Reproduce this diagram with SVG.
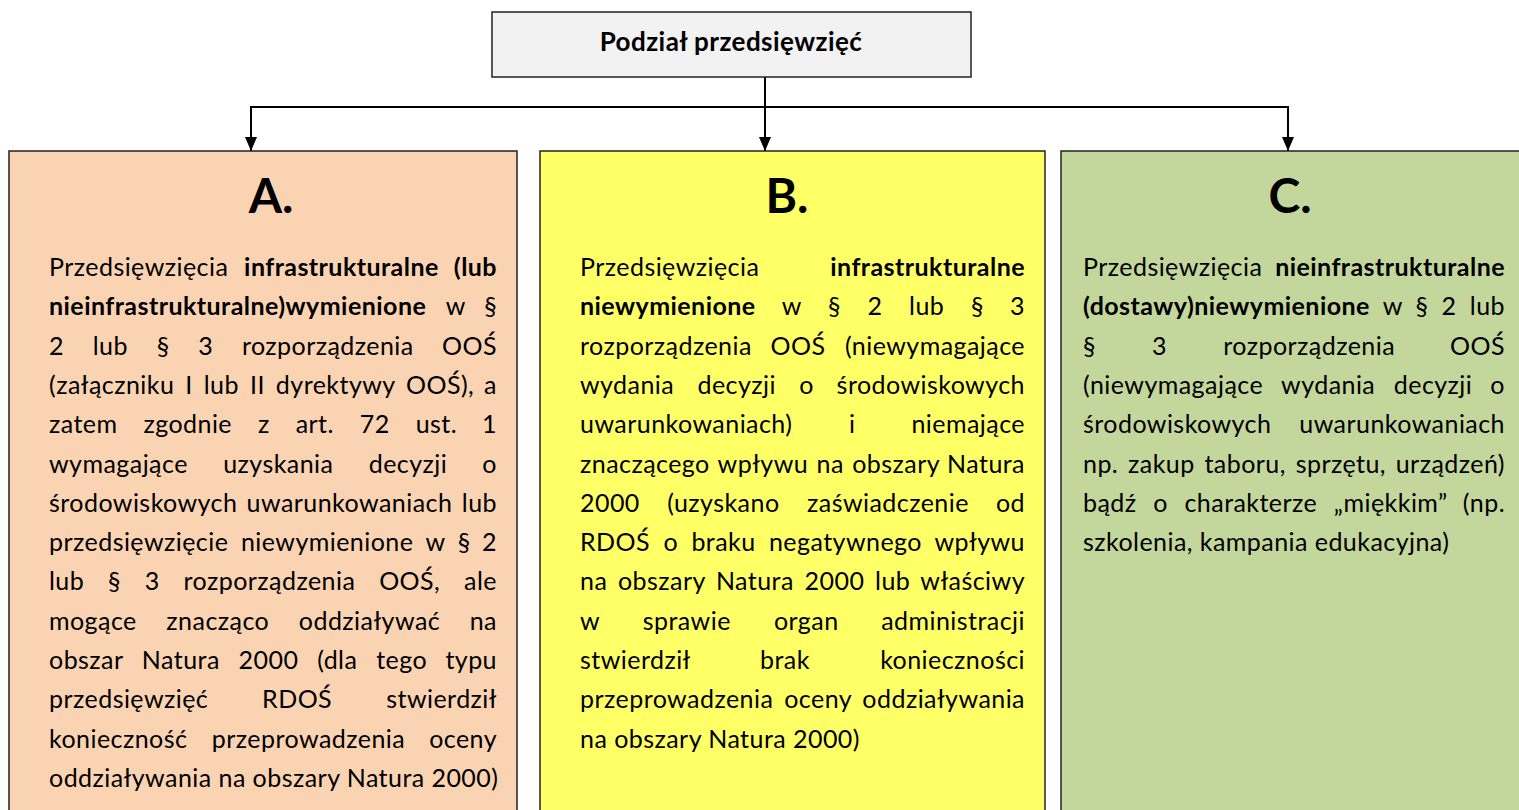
<svg xmlns="http://www.w3.org/2000/svg" width="1519" height="810" viewBox="0 0 1519 810">
<style>
.t{font-family:Lato,"Open Sans","Liberation Sans",sans-serif;font-size:25px;letter-spacing:0.45px;fill:#000}
.b{font-weight:700}
.e{text-anchor:end}
.ttl{font-family:Lato,"Open Sans","Liberation Sans",sans-serif;font-size:26px;font-weight:700;letter-spacing:0.45px;text-anchor:middle;fill:#000}
.h{font-family:Lato,"Open Sans","Liberation Sans",sans-serif;font-size:48px;font-weight:700;text-anchor:middle;fill:#000}
.box{stroke:#222;stroke-width:1.5}
.ln{stroke:#000;stroke-width:2;fill:none}
</style>
<defs>
<marker id="ar" markerWidth="14" markerHeight="12" refX="14" refY="6" orient="auto" markerUnits="userSpaceOnUse" viewBox="0 0 14 12">
<path d="M0,0 L14,6 L0,12 Z" fill="#000"/>
</marker>
</defs>
<rect width="1519" height="810" fill="#fff"/>
<g id="connectors">
<line class="ln" x1="765" y1="77" x2="765" y2="151" marker-end="url(#ar)"/>
<line class="ln" x1="250" y1="107" x2="1289" y2="107"/>
<path class="ln" d="M251,106 V151" marker-end="url(#ar)"/>
<path class="ln" d="M1288,106 V151" marker-end="url(#ar)"/>
</g>
<g id="root">
<rect class="box" x="492" y="12" width="479" height="65" fill="#f2f2f2"/>
<text class="ttl" x="731" y="51">Podział przedsięwzięć</text>
</g>
<g id="nodeA">
<rect class="box" x="9" y="151" width="508" height="680" fill="#fad3b2"/>
<text class="h" x="271" y="213">A.</text>
<text class="t" y="276" word-spacing="8.95"><tspan x="49">Przedsięwzięcia <tspan class="b">infrastrukturalne</tspan></tspan><tspan class="e b" x="497">(lub</tspan></text>
<text class="t" y="315.3" word-spacing="13.1"><tspan x="49"><tspan class="b">nieinfrastrukturalne)wymienione</tspan> w</tspan><tspan class="e" x="497">§</tspan></text>
<text class="t" y="354.6" word-spacing="21.9"><tspan x="49">2 lub § 3 rozporządzenia</tspan><tspan class="e" x="497">OOŚ</tspan></text>
<text class="t" y="393.9" word-spacing="4.15"><tspan x="49">(załączniku I lub II dyrektywy OOŚ),</tspan><tspan class="e" x="497">a</tspan></text>
<text class="t" y="433.2" word-spacing="19.1"><tspan x="49">zatem zgodnie z art. 72 ust.</tspan><tspan class="e" x="497">1</tspan></text>
<text class="t" y="472.5" word-spacing="28.5"><tspan x="49">wymagające uzyskania decyzji</tspan><tspan class="e" x="497">o</tspan></text>
<text class="t" y="511.8" word-spacing="2.35"><tspan x="49">środowiskowych uwarunkowaniach</tspan><tspan class="e" x="497">lub</tspan></text>
<text class="t" y="551.1" word-spacing="5.8"><tspan x="49">przedsięwzięcie niewymienione w §</tspan><tspan class="e" x="497">2</tspan></text>
<text class="t" y="590.4" word-spacing="17"><tspan x="49">lub § 3 rozporządzenia OOŚ,</tspan><tspan class="e" x="497">ale</tspan></text>
<text class="t" y="629.7" word-spacing="22.8"><tspan x="49">mogące znacząco oddziaływać</tspan><tspan class="e" x="497">na</tspan></text>
<text class="t" y="669" word-spacing="12"><tspan x="49">obszar Natura 2000 (dla tego</tspan><tspan class="e" x="497">typu</tspan></text>
<text class="t" y="708.3" word-spacing="47"><tspan x="49">przedsięwzięć RDOŚ</tspan><tspan class="e" x="497">stwierdził</tspan></text>
<text class="t" y="747.6" word-spacing="17.6"><tspan x="49">konieczność przeprowadzenia</tspan><tspan class="e" x="497">oceny</tspan></text>
<text class="t" x="49" y="786.9">oddziaływania na obszary Natura 2000)</text>
</g>
<g id="nodeB">
<rect class="box" x="540" y="151" width="505" height="680" fill="#ffff66"/>
<text class="h" x="787" y="213">B.</text>
<text class="t" y="276"><tspan x="580">Przedsięwzięcia</tspan><tspan class="e b" x="1025">infrastrukturalne</tspan></text>
<text class="t" y="315.3" word-spacing="19.8"><tspan x="580"><tspan class="b">niewymienione</tspan> w § 2 lub §</tspan><tspan class="e" x="1025">3</tspan></text>
<text class="t" y="354.6" word-spacing="11.85"><tspan x="580">rozporządzenia OOŚ</tspan><tspan class="e" x="1025">(niewymagające</tspan></text>
<text class="t" y="393.9" word-spacing="16.5"><tspan x="580">wydania decyzji o</tspan><tspan class="e" x="1025">środowiskowych</tspan></text>
<text class="t" y="433.2" word-spacing="49.7"><tspan x="580">uwarunkowaniach) i</tspan><tspan class="e" x="1025">niemające</tspan></text>
<text class="t" y="472.5" word-spacing="1.56"><tspan x="580">znaczącego wpływu na obszary</tspan><tspan class="e" x="1025">Natura</tspan></text>
<text class="t" y="511.8" word-spacing="20.7"><tspan x="580">2000 (uzyskano zaświadczenie</tspan><tspan class="e" x="1025">od</tspan></text>
<text class="t" y="551.1" word-spacing="6.5"><tspan x="580">RDOŚ o braku negatywnego</tspan><tspan class="e" x="1025">wpływu</tspan></text>
<text class="t" y="590.4" word-spacing="3.85"><tspan x="580">na obszary Natura 2000 lub</tspan><tspan class="e" x="1025">właściwy</tspan></text>
<text class="t" y="629.7" word-spacing="36.3"><tspan x="580">w sprawie organ</tspan><tspan class="e" x="1025">administracji</tspan></text>
<text class="t" y="669" word-spacing="63.2"><tspan x="580">stwierdził brak</tspan><tspan class="e" x="1025">konieczności</tspan></text>
<text class="t" y="708.3" word-spacing="4.1"><tspan x="580">przeprowadzenia oceny</tspan><tspan class="e" x="1025">oddziaływania</tspan></text>
<text class="t" x="580" y="747.6">na obszary Natura 2000)</text>
</g>
<g id="nodeC">
<rect class="box" x="1061" y="151" width="480" height="680" fill="#c3d69b"/>
<text class="h" x="1290" y="213">C.</text>
<text class="t" y="276"><tspan x="1083">Przedsięwzięcia</tspan><tspan class="e b" x="1505">nieinfrastrukturalne</tspan></text>
<text class="t" y="315.3" word-spacing="6.4"><tspan x="1083"><tspan class="b">(dostawy)niewymienione</tspan> w § 2</tspan><tspan class="e" x="1505">lub</tspan></text>
<text class="t" y="354.6" word-spacing="49.4"><tspan x="1083">§ 3 rozporządzenia</tspan><tspan class="e" x="1505">OOŚ</tspan></text>
<text class="t" y="393.9" word-spacing="11.7"><tspan x="1083">(niewymagające wydania decyzji</tspan><tspan class="e" x="1505">o</tspan></text>
<text class="t" y="433.2"><tspan x="1083">środowiskowych</tspan><tspan class="e" x="1505">uwarunkowaniach</tspan></text>
<text class="t" y="472.5" word-spacing="2.95"><tspan x="1083">np. zakup taboru, sprzętu,</tspan><tspan class="e" x="1505">urządzeń)</tspan></text>
<text class="t" y="511.8" word-spacing="9.8"><tspan x="1083">bądź o charakterze „miękkim”</tspan><tspan class="e" x="1505">(np.</tspan></text>
<text class="t" x="1083" y="551.1">szkolenia, kampania edukacyjna)</text>
</g>
</svg>
